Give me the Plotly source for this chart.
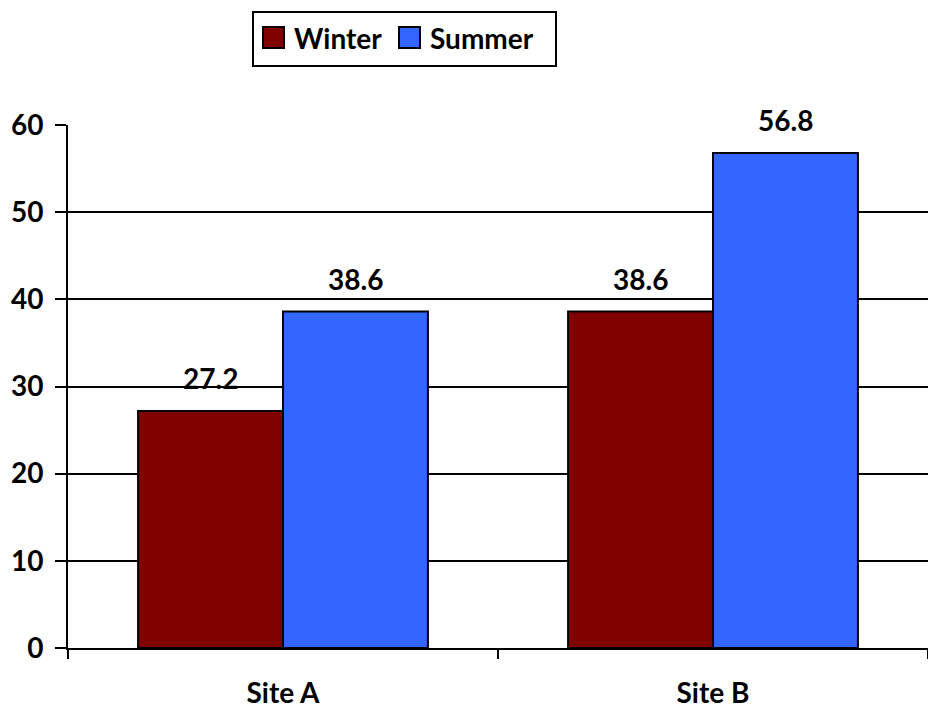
import plotly.graph_objects as go

sites = ["Site A", "Site B"]
winter = [27.2, 38.6]
summer = [38.6, 56.8]
series_names = ["Winter", "Summer"]
series_colors = ["#800000", "#3366FF"]

FONT = "Lato"
SIZE = 28
BARGAP = 0.326
half = (1 - BARGAP) / 4  # offset of each bar centre from the category centre

# plot-area geometry in pixels, used to place the boxed legend
W, H = 928, 708
ML, MR, MT, MB = 68, 0, 125, 60
PW, PH = W - ML - MR, H - MT - MB


def px_x(px):
    return (px - ML) / PW


def px_y(py):
    return (H - MB - py) / PH


fig = go.Figure()
for name, vals, col in zip(series_names, (winter, summer), series_colors):
    fig.add_trace(go.Bar(name=name, x=sites, y=vals, showlegend=False,
                         marker=dict(color=col, line=dict(color="black", width=2))))

# value labels above each bar
for i, (w, s) in enumerate(zip(winter, summer)):
    for val, dx in ((w, -half), (s, half)):
        fig.add_annotation(x=i + dx, y=val, text=f"<b>{val:.1f}</b>",
                           showarrow=False, yanchor="bottom", yshift=14,
                           font=dict(family=FONT, size=SIZE, color="black"))

# boxed legend above the plot
shapes = [dict(type="rect", xref="paper", yref="paper",
               x0=px_x(253), x1=px_x(556), y0=px_y(66), y1=px_y(12),
               line=dict(color="black", width=2), fillcolor="white")]
for name, col, sq_left, txt_left in zip(series_names, series_colors, (263, 399), (292, 428)):
    shapes.append(dict(type="rect", xref="paper", yref="paper",
                       x0=px_x(sq_left), x1=px_x(sq_left + 21),
                       y0=px_y(48), y1=px_y(27),
                       line=dict(color="black", width=2), fillcolor=col))
    fig.add_annotation(xref="paper", yref="paper", x=px_x(txt_left), y=px_y(38),
                       xanchor="left", yanchor="middle", showarrow=False,
                       text=f"<b>{name}</b>",
                       font=dict(family=FONT, size=SIZE, color="black"))

fig.update_layout(
    width=W, height=H,
    margin=dict(l=ML, r=MR, t=MT, b=MB, autoexpand=False),
    paper_bgcolor="white", plot_bgcolor="white",
    barmode="group", bargap=BARGAP, bargroupgap=0,
    font=dict(family=FONT, size=SIZE, color="black"),
    showlegend=False,
    shapes=shapes,
)
fig.update_xaxes(
    type="category", showline=True, linecolor="black", linewidth=2,
    ticks="outside", tickson="boundaries", ticklen=9, tickwidth=2, tickcolor="black",
    showgrid=False, ticklabelstandoff=19, automargin=False,
    tickfont=dict(family=FONT, size=SIZE, color="black", weight="bold"),
)
fig.update_yaxes(
    range=[0, 60], dtick=10, showline=True, linecolor="black", linewidth=2,
    ticks="outside", ticklen=11, tickwidth=2, tickcolor="black",
    showgrid=True, gridcolor="black", gridwidth=2, zeroline=False,
    ticklabelstandoff=6, automargin=False,
    tickfont=dict(family=FONT, size=SIZE, color="black", weight="bold"),
)

fig.write_html("out.html")
